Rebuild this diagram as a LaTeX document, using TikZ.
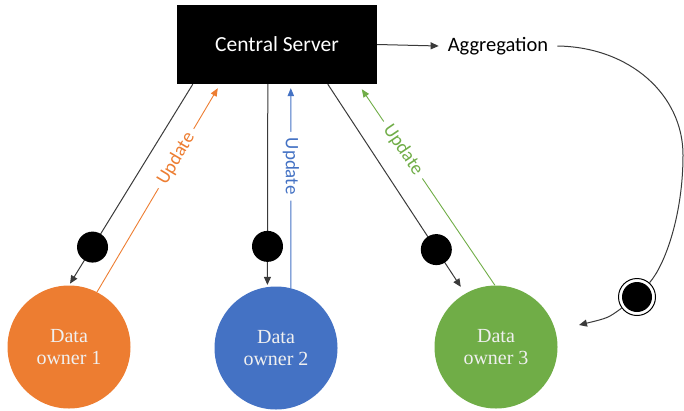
\documentclass[tikz,border=0pt]{standalone}
\usepackage{fontspec}
\setmainfont{Carlito}
\newfontfamily\ownerfont{Liberation Serif}
\usetikzlibrary{arrows.meta,calc}

\definecolor{ownerorange}{HTML}{ED7D31}
\definecolor{ownerblue}{HTML}{4472C4}
\definecolor{ownergreen}{HTML}{70AD47}
\definecolor{linegray}{HTML}{3A3A3A}

\tikzset{
  server/.style={fill=black, text=white, minimum width=200pt, minimum height=79pt,
    inner sep=0pt, font=\fontsize{21.5}{25}\selectfont},
  owner/.style={circle, minimum size=123pt, inner sep=0pt, text=white!94!black, align=center,
    font=\ownerfont\fontsize{20}{22}\selectfont},
  conn/.style={draw=linegray, line width=1pt, -{Triangle[length=8pt,width=7pt]}},
  upd/.style={line width=0.9pt, -{Triangle[length=8pt,width=6.5pt]}},
  dot/.style={circle, fill=black, minimum size=31pt, inner sep=0pt},
  lbl/.style={fill=white, inner xsep=6pt, inner ysep=2pt, sloped, font=\fontsize{19}{22}\selectfont},
  marker/.style={circle, draw=black, line width=1pt, fill=white, minimum size=37pt,
    inner sep=0pt,
    path picture={\fill[black] (path picture bounding box.center) circle (15pt);}}
}

\begin{document}
\begin{tikzpicture}[x=1pt,y=-1pt]
\useasboundingbox (0,0) rectangle (684,410);

% server and data owners
\node[server] (cs) at (277,44.5) {Central Server};
\node[owner, fill=ownerorange] (o1) at (69,347) {Data\\owner 1};
\node[owner, fill=ownerblue]   (o2) at (276,348) {Data\\owner 2};
\node[owner, fill=ownergreen]  (o3) at (496,347) {Data\\owner 3};

% attachment points on the lower edge of the server box
\coordinate (d1) at ($(cs.south west)+(16,0)$);
\coordinate (u1) at ($(cs.south west)+(41,4)$);
\coordinate (d2) at ($(cs.south west)+(91,0)$);
\coordinate (u2) at ($(cs.south west)+(114,4)$);
\coordinate (d3) at ($(cs.south west)+(151,0)$);
\coordinate (u3) at ($(cs.south west)+(185,5)$);

% model sent down to each owner
\draw[conn, shorten >=2pt] (d1) -- node[dot, pos=0.81] (k1) {} (o1.north);
\draw[conn, shorten >=2pt] (d2) -- node[dot, pos=0.80] (k2) {} (o2.98);
\draw[conn, shorten >=8pt] (d3) -- node[dot, pos=0.79] (k3) {} (o3.120);

% updates sent back up
\draw[upd, ownerorange] (o1.63) -- node[lbl, pos=0.655, text=ownerorange] (l1) {Update} (u1);
\draw[upd, ownerblue]   (o2.76) -- node[lbl, pos=0.61, text=ownerblue] (l2) {Update} (u2);
\draw[upd, ownergreen]  (o3.91) -- node[lbl, pos=0.69, text=ownergreen] (l3) {Update} (u3);

% aggregation loop
\node[font=\fontsize{20.5}{24}\selectfont, inner ysep=0pt, inner xsep=9pt] (agg) at (498,46) {Aggregation};
\draw[conn] (cs.east) -- (agg.west);
\node[marker] (mk) at (637,297) {};
\coordinate (aend) at (579,325);
\draw[draw=linegray, line width=1pt] (agg.east) .. controls (630,47) and (683,95) .. (683,155)
  .. controls (683,215) and (665,265) .. (mk);
\draw[conn] (mk) .. controls (608,318) .. (aend);
\end{tikzpicture}
\end{document}
